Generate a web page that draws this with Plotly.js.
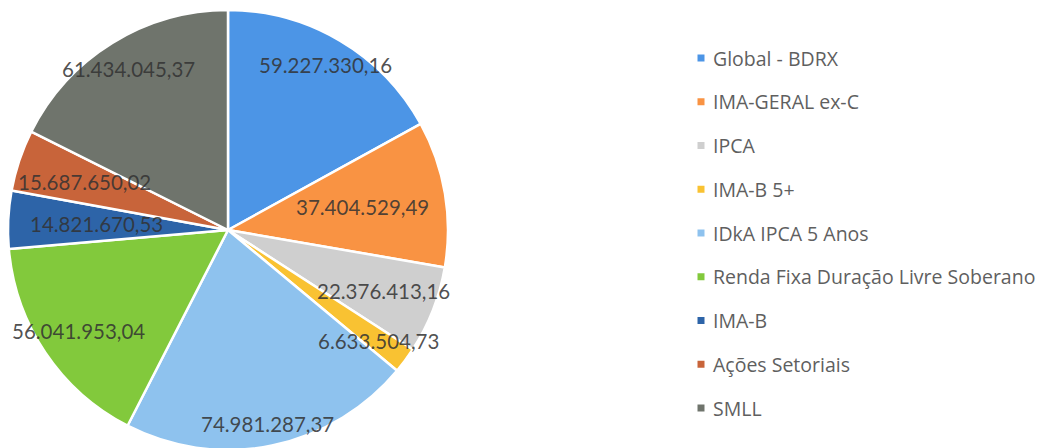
<!DOCTYPE html>
<html>
<head>
<meta charset="utf-8">
<script src="https://cdn.plot.ly/plotly-3.0.1.min.js"></script>
<style>
html,body{margin:0;padding:0;overflow:hidden;background:#fff;}
#chart{width:1050px;height:450px;}
</style>
</head>
<body>
<div id="chart"></div>
<script>
// ---- data ----
const categories = ["Global - BDRX","IMA-GERAL ex-C","IPCA","IMA-B 5+","IDkA IPCA 5 Anos","Renda Fixa Duração Livre Soberano","IMA-B","Ações Setoriais","SMLL"];
const values = [59227330.16, 37404529.49, 22376413.16, 6633504.73, 74981287.37, 56041953.04, 14821670.53, 15687650.02, 61434045.37];
const valueLabels = ["59.227.330,16","37.404.529,49","22.376.413,16","6.633.504,73","74.981.287,37","56.041.953,04","14.821.670,53","15.687.650,02","61.434.045,37"];

// ---- style / layout ----
const colors = ["#4C95E6","#F99343","#CFCFCF","#F9C232","#8EC2EE","#82C93C","#2D64A8","#C8643A","#6F746C"];
const labelRadiusFrac = [0.87, 0.62, 0.76, 0.85, 0.90, 0.82, 0.60, 0.69, 0.86];
const W = 1050, H = 450;
const cx = 228, cy = 230, R = 220;
const FONT = "Lato, 'Open Sans', sans-serif";
const LEGFONT = "'Open Sans', Lato, sans-serif";

const total = values.reduce((a,b)=>a+b,0);
const annotations = [];
let cum = 0;
values.forEach((v,i)=>{
  const mid = (cum + v/2)/total * 2*Math.PI;
  cum += v;
  const r = R*labelRadiusFrac[i];
  const px = cx + r*Math.sin(mid);
  const py = cy - r*Math.cos(mid);
  annotations.push({
    xref:'paper', yref:'paper', x:px/W, y:(H-py)/H,
    xanchor:'center', yanchor:'middle', showarrow:false,
    text:valueLabels[i], font:{family:FONT, size:20.5, color:'rgba(50,50,50,0.85)'}
  });
});

// legend drawn as annotations + shapes
const legTop = 58, legStep = 43.75, legTextX = 711, legBoxX = 701, box = 7;
const shapes = [];
categories.forEach((c,i)=>{
  const y = legTop + i*legStep;
  annotations.push({
    xref:'paper', yref:'paper', x:legTextX/W, y:(H-y)/H,
    xanchor:'left', yanchor:'middle', showarrow:false,
    text:c, font:{family:LEGFONT, size:19.5, color:'#5f5f5f'}
  });
  shapes.push({
    type:'rect', xref:'paper', yref:'paper',
    xsizemode:'pixel', ysizemode:'pixel',
    xanchor:legBoxX/W, yanchor:(H-y)/H,
    x0:-box/2, x1:box/2, y0:-box/2, y1:box/2,
    fillcolor:colors[i], line:{width:0}
  });
});

const trace = {
  type:'pie', labels:categories, values:values,
  sort:false, direction:'clockwise', rotation:0,
  textinfo:'none', hoverinfo:'label+value',
  marker:{colors:colors, line:{color:'#ffffff', width:2.5}},
  domain:{x:[(cx-R)/W, (cx+R)/W], y:[(H-cy-R)/H, (H-cy+R)/H]},
  showlegend:false
};

const layout = {
  width:W, height:H,
  margin:{l:0,r:0,t:0,b:0},
  paper_bgcolor:'#ffffff',
  showlegend:false,
  annotations:annotations,
  shapes:shapes
};

Plotly.newPlot('chart',[trace],layout,{displayModeBar:false, staticPlot:true});
</script>
</body>
</html>
